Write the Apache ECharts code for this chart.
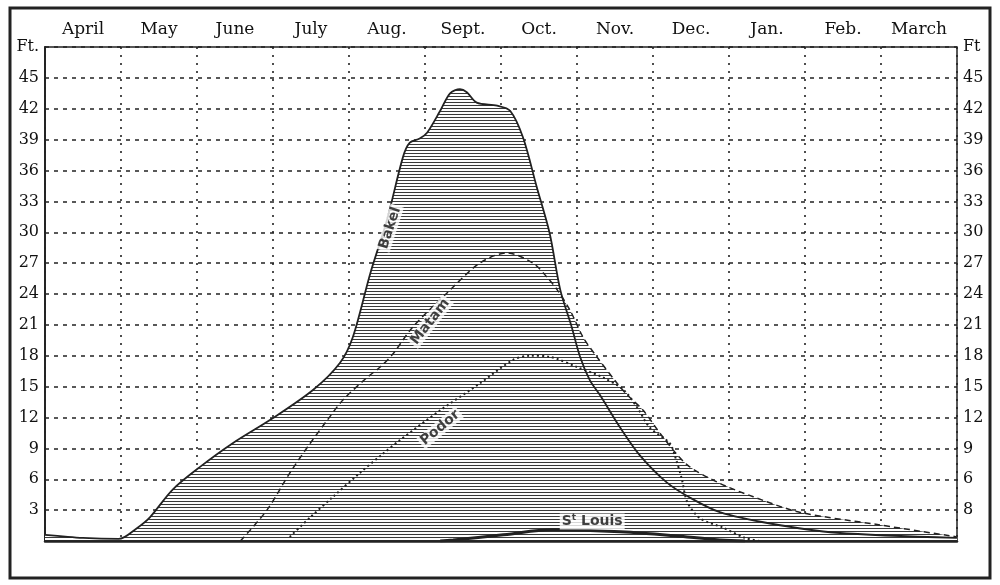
<!DOCTYPE html>
<html>
<head>
<meta charset="utf-8">
<script src="https://cdn.jsdelivr.net/npm/echarts@6/dist/echarts.min.js"></script>
<style>
html, body { margin: 0; padding: 0; background: #fff; }
#chart { width: 1000px; height: 585px; }
</style>
</head>
<body>
<div id="chart"></div>
<script>
// months along the top, each one a column
var months = ['April', 'May', 'June', 'July', 'Aug.', 'Sept.', 'Oct.', 'Nov.', 'Dec.', 'Jan.', 'Feb.', 'March'];

// tick labels, index = ft / 3
var leftTicks = ['', '3', '6', '9', '12', '15', '18', '21', '24', '27', '30', '33', '36', '39', '42', '45', 'Ft.'];
var rightTicks = ['', '8', '6', '9', '12', '15', '18', '21', '24', '27', '30', '33', '36', '39', '42', '45', 'Ft'];

// [month position (0 = start of April), feet]
var bakel = [[0, 0.6], [0.5, 0.3], [0.97, 0.2], [1.2, 1.2], [1.38, 2.3], [1.68, 5.0], [2.04, 7.2], [2.47, 9.5],
    [2.99, 11.9], [3.53, 14.7], [3.88, 17.3], [4.05, 19.8], [4.28, 26], [4.5, 31.2], [4.71, 37.3], [4.8, 38.7],
    [4.93, 39.1], [5.03, 39.7], [5.2, 41.8], [5.33, 43.5], [5.46, 43.9], [5.55, 43.6], [5.68, 42.6], [5.95, 42.3],
    [6.12, 41.8], [6.29, 39.2], [6.47, 34.4], [6.64, 29.9], [6.78, 24.4], [6.93, 20.8], [7.04, 17.9], [7.17, 15.6],
    [7.3, 14.2], [7.57, 11], [7.83, 8.3], [8.18, 5.7], [8.49, 4.2], [8.88, 2.8], [9.54, 1.7], [10.42, 0.8], [12, 0.3]];

var matam = [[2.57, 0], [2.92, 3], [3.22, 6.6], [3.49, 9.5], [3.71, 11.7], [3.92, 13.7], [4.24, 15.9], [4.41, 16.9],
    [4.58, 18.2], [4.84, 20.8], [5.29, 24.1], [5.72, 27], [6.08, 28], [6.42, 27], [6.61, 25.6], [6.74, 24.4],
    [6.91, 22.4], [7.08, 19.8], [7.26, 17.9], [7.53, 15.3], [7.66, 14.2], [7.87, 12.7], [8.13, 10.1], [8.45, 7.4],
    [8.88, 5.6], [9.32, 4.3], [9.93, 2.8], [10.95, 1.6], [12, 0.4]];

var podor = [[3.22, 0.4], [3.49, 2.3], [3.79, 4.3], [4.14, 6.6], [4.45, 8.5], [4.67, 9.8], [5.2, 12.7], [5.72, 15.3],
    [6.16, 17.6], [6.38, 18], [6.64, 17.9], [7.0, 16.9], [7.34, 15.9], [7.61, 14.7], [7.79, 13], [7.96, 11],
    [8.22, 9.5], [8.3, 8.0], [8.38, 6.0], [8.45, 3.8], [8.62, 2.2], [8.92, 1.3], [9.21, 0.3], [9.41, 0]];

var stLouis = [[5.2, 0], [5.37, 0.1], [6.03, 0.6], [6.68, 1.1], [7.57, 0.9], [8.45, 0.4], [8.88, 0.1], [9.21, 0]];

// station names written along the curves
var curveNames = ['Bakel', 'Matam', 'Podor', 'S{t|t} Louis'];
var curveNameAt = [[4.54, 30.4], [5.07, 21.3], [5.2, 11], [7.2, 1.9]];
var curveNameTurn = [72, 52, 40, 0];

// horizontal hatching on white, used for the flooded area
function makeHatch() {
    var c = document.createElement('canvas');
    c.width = 8;
    c.height = 3;
    var g = c.getContext('2d');
    g.fillStyle = '#fff';
    g.fillRect(0, 0, 8, 3);
    g.fillStyle = '#3a3a3a';
    g.fillRect(0, 0, 8, 1);
    return c;
}
var hatch = { image: makeHatch(), repeat: 'repeat' };

var ink = '#222';
var serif = 'DejaVu Serif';

var chart = echarts.init(document.getElementById('chart'));

var nameData = curveNames.map(function (n, i) {
    return {
        value: curveNameAt[i],
        label: { formatter: n, rotate: curveNameTurn[i] }
    };
});

// white under-fill so grid lines do not show through the hatching
function blank(data) {
    return {
        type: 'line', data: data, smooth: 0.3, symbol: 'none', silent: true, z: 2,
        lineStyle: { width: 0, opacity: 0 },
        areaStyle: { color: '#fff', opacity: 1 }
    };
}

var option = {
    animation: false,
    backgroundColor: '#fff',
    grid: {
        left: 45, right: 43, top: 47, bottom: 44,
        show: true, borderColor: ink, borderWidth: 1.5
    },
    xAxis: [
        {
            type: 'value', min: 0, max: 12, interval: 1, position: 'bottom',
            axisLine: { show: false },
            axisTick: { show: false },
            axisLabel: { show: false },
            splitLine: { show: true, lineStyle: { color: ink, width: 1.6, type: [2, 6] } }
        },
        {
            type: 'category', data: months, position: 'top', boundaryGap: true,
            axisLine: { show: false },
            axisTick: { show: false },
            axisLabel: { color: '#111', fontFamily: serif, fontSize: 17, margin: 9 },
            splitLine: { show: false }
        },
        {
            // heavy base line, kept above the hatching
            type: 'value', min: 0, max: 12, position: 'bottom', z: 10,
            axisLine: { show: true, lineStyle: { color: ink, width: 2.5 } },
            axisTick: { show: false },
            axisLabel: { show: false },
            splitLine: { show: false }
        }
    ],
    yAxis: [
        {
            type: 'value', min: 0, max: 48, interval: 3, position: 'left',
            axisLine: { show: true, lineStyle: { color: ink, width: 1.5 } },
            axisTick: { show: false },
            axisLabel: {
                color: '#111', fontFamily: serif, fontSize: 16, margin: 6,
                formatter: function (v) { return leftTicks[Math.round(v / 3)]; }
            },
            splitLine: { show: true, lineStyle: { color: ink, width: 1.6, type: [4, 5] } }
        },
        {
            type: 'value', min: 0, max: 48, interval: 3, position: 'right',
            axisLine: { show: true, lineStyle: { color: ink, width: 1.5 } },
            axisTick: { show: false },
            axisLabel: {
                color: '#111', fontFamily: serif, fontSize: 16, margin: 6,
                formatter: function (v) { return rightTicks[Math.round(v / 3)]; }
            },
            splitLine: { show: false }
        }
    ],
    graphic: [
        {
            type: 'rect', z: 100, silent: true,
            shape: { x: 10, y: 8, width: 980, height: 570 },
            style: { fill: 'none', stroke: ink, lineWidth: 3 }
        }
    ],
    series: [
        blank(bakel),
        blank(matam),
        blank(podor),
        {
            name: 'Bakel', type: 'line', data: bakel, smooth: 0.3, symbol: 'none',
            lineStyle: { color: ink, width: 1.8 },
            areaStyle: { color: hatch, opacity: 1 }, z: 3
        },
        {
            name: 'Matam', type: 'line', data: matam, smooth: 0.3, symbol: 'none',
            lineStyle: { color: ink, width: 1.5, type: [6, 4] },
            areaStyle: { color: hatch, opacity: 1 }, z: 3
        },
        {
            name: 'Podor', type: 'line', data: podor, smooth: 0.3, symbol: 'none',
            lineStyle: { color: ink, width: 2, type: [2, 3] },
            areaStyle: { color: hatch, opacity: 1 }, z: 3
        },
        {
            name: 'St Louis', type: 'line', data: stLouis, smooth: 0.4, symbol: 'none',
            lineStyle: { color: ink, width: 3 }, z: 4
        },
        {
            name: 'names', type: 'scatter', data: nameData, symbolSize: 0, z: 6,
            label: {
                show: true, position: 'inside', color: '#111',
                fontFamily: 'DejaVu Sans', fontSize: 14, fontWeight: 'bold',
                backgroundColor: '#fff', padding: [0, 2],
                rich: { t: { fontSize: 9, fontWeight: 'bold', padding: [0, 0, 7, 0], color: '#111', fontFamily: 'DejaVu Sans' } }
            }
        }
    ]
};

chart.setOption(option);
</script>
</body>
</html>
